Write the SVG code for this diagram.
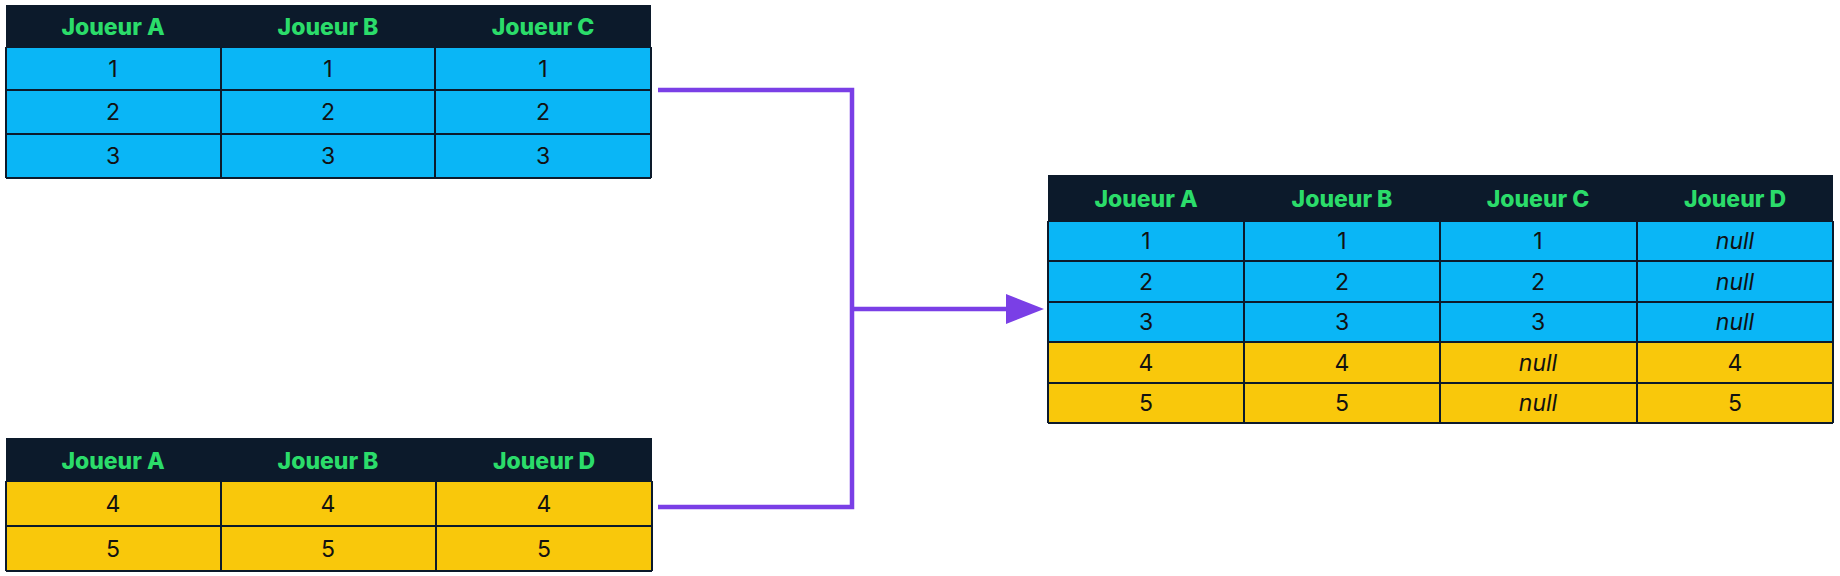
<svg xmlns="http://www.w3.org/2000/svg" width="1840" height="576" viewBox="0 0 1840 576">
<style>
.h{fill:#0c1a2b}.b{fill:#0ab6f6}.y{fill:#f9c80b}
.g{stroke:#0c1a2b;stroke-width:2;fill:none}
.ht{font-family:Inter,"Liberation Sans",sans-serif;font-weight:800;font-size:23px;fill:#2bdc6a;text-anchor:middle}
.ct{font-family:Inter,"Liberation Sans",sans-serif;font-size:23px;fill:#111;text-anchor:middle}
.it{font-style:italic}
.c{stroke:#7a3fe6;stroke-width:4.5;fill:none}
</style>
<defs><marker id="ar" markerWidth="10" markerHeight="10" refX="9" refY="5" orient="auto" markerUnits="userSpaceOnUse" viewBox="0 0 10 10"><path d="M0,0 L10,5 L0,10 z" fill="#7a3fe6"/></marker></defs>
<g id="table1">
<rect class="h" x="6" y="5" width="645" height="42"/>
<rect class="b" x="6" y="47" width="645" height="131"/>
<path class="g" d="M6,47H651M6,90H651M6,134H651M6,178H651M6,47V178M651,47V178M221,47V178M435,47V178"/>
<text class="ht" x="113" y="35">Joueur A</text><text class="ht" x="328" y="35">Joueur B</text><text class="ht" x="543" y="35">Joueur C</text>
<text class="ct" x="113" y="77">1</text><text class="ct" x="328" y="77">1</text><text class="ct" x="543" y="77">1</text>
<text class="ct" x="113" y="120">2</text><text class="ct" x="328" y="120">2</text><text class="ct" x="543" y="120">2</text>
<text class="ct" x="113" y="164">3</text><text class="ct" x="328" y="164">3</text><text class="ct" x="543" y="164">3</text>
</g>
<g id="table2">
<rect class="h" x="6" y="438" width="646" height="43"/>
<rect class="y" x="6" y="481" width="646" height="90"/>
<path class="g" d="M6,481H652M6,526H652M6,571H652M6,481V571M652,481V571M221,481V571M436,481V571"/>
<text class="ht" x="113" y="469">Joueur A</text><text class="ht" x="328" y="469">Joueur B</text><text class="ht" x="544" y="469">Joueur D</text>
<text class="ct" x="113" y="512">4</text><text class="ct" x="328" y="512">4</text><text class="ct" x="544" y="512">4</text>
<text class="ct" x="113" y="557">5</text><text class="ct" x="328" y="557">5</text><text class="ct" x="544" y="557">5</text>
</g>
<g id="result">
<rect class="h" x="1048" y="175" width="785" height="46"/>
<rect class="b" x="1048" y="221" width="785" height="121"/>
<rect class="y" x="1048" y="342" width="785" height="81"/>
<path class="g" d="M1048,221H1833M1048,261H1833M1048,302H1833M1048,342H1833M1048,383H1833M1048,423H1833M1048,221V423M1833,221V423M1244,221V423M1440,221V423M1637,221V423"/>
<text class="ht" x="1146" y="207">Joueur A</text><text class="ht" x="1342" y="207">Joueur B</text><text class="ht" x="1538" y="207">Joueur C</text><text class="ht" x="1735" y="207">Joueur D</text>
<text class="ct" x="1146" y="249">1</text><text class="ct" x="1342" y="249">1</text><text class="ct" x="1538" y="249">1</text><text class="ct it" x="1735" y="249">null</text>
<text class="ct" x="1146" y="290">2</text><text class="ct" x="1342" y="290">2</text><text class="ct" x="1538" y="290">2</text><text class="ct it" x="1735" y="290">null</text>
<text class="ct" x="1146" y="330">3</text><text class="ct" x="1342" y="330">3</text><text class="ct" x="1538" y="330">3</text><text class="ct it" x="1735" y="330">null</text>
<text class="ct" x="1146" y="371">4</text><text class="ct" x="1342" y="371">4</text><text class="ct it" x="1538" y="371">null</text><text class="ct" x="1735" y="371">4</text>
<text class="ct" x="1146" y="411">5</text><text class="ct" x="1342" y="411">5</text><text class="ct it" x="1538" y="411">null</text><text class="ct" x="1735" y="411">5</text>
</g>
<g id="connectors">
<path class="c" d="M658,90H852V507H658"/>
<path class="c" d="M852,309H1008"/>
<path d="M1006,294L1044,309L1006,324z" fill="#7a3fe6"/>
</g>
</svg>
